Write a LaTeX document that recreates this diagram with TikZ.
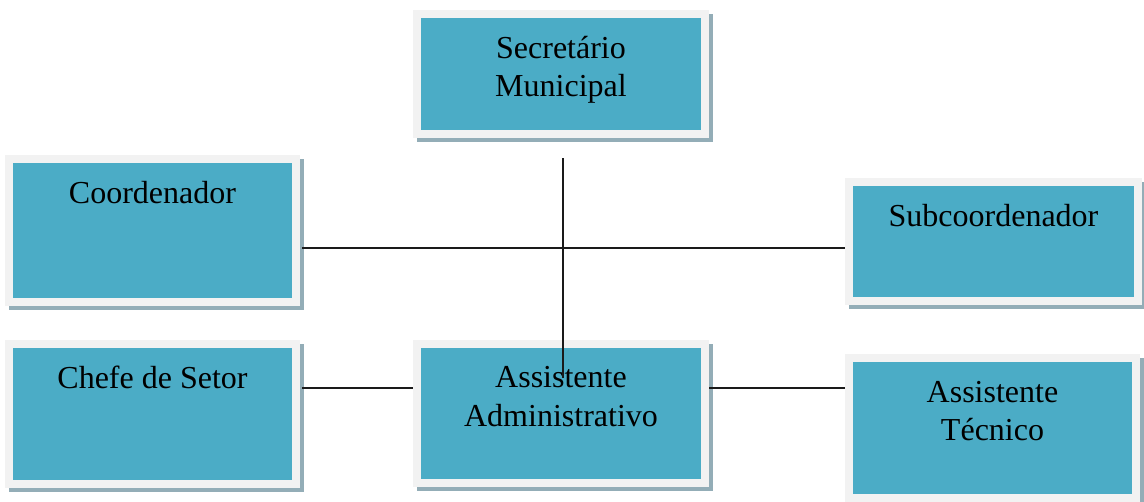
\documentclass[tikz,border=0pt]{standalone}
\usepackage{fontspec}
\setmainfont{Liberation Serif}
\usetikzlibrary{shadows}
\definecolor{boxfill}{HTML}{4BACC6}
\definecolor{boxrim}{HTML}{F2F2F2}
\definecolor{boxshade}{HTML}{93ADB7}
\definecolor{linkcol}{HTML}{1A1A1A}
\tikzset{
  cargo/.style={fill=boxrim, inner sep=0pt, outer sep=0pt,
    general shadow={fill=boxshade, shadow xshift=3pt, shadow yshift=-3pt},
    path picture={\fill[boxfill] ([xshift=6pt,yshift=-6pt]path picture bounding box.north west)
      rectangle ([xshift=-6pt,yshift=6pt]path picture bounding box.south east);}},
  rotulo/.style={anchor=base, align=center, inner sep=0pt, font=\fontsize{24}{29}\selectfont},
  ligacao/.style={draw=linkcol, line width=1.8pt}
}
\begin{document}
\begin{tikzpicture}[x=0.75pt,y=-0.75pt]
\useasboundingbox (0,0) rectangle (1144,501);
\node[cargo, minimum width=222pt, minimum height=96pt] (sec) at (561,74) {};
\node[cargo, minimum width=221.25pt, minimum height=113.25pt] (coord) at (152.5,230.5) {};
\node[cargo, minimum width=222.75pt, minimum height=95.25pt] (sub) at (993.5,241.5) {};
\node[cargo, minimum width=221.25pt, minimum height=111pt] (chefe) at (152.5,414) {};
\node[cargo, minimum width=222pt, minimum height=110.25pt] (asad) at (561,413.5) {};
\node[cargo, minimum width=221.25pt, minimum height=111pt] (tec) at (992.5,428) {};
% nos de duas linhas: base na ultima linha
\node[rotulo] (tsec) at ([yshift=-65pt]sec.north) {Secretário\\Municipal};
\node[rotulo] (tcoord) at ([yshift=-36pt]coord.north) {Coordenador};
\node[rotulo] (tsub) at ([yshift=-36.5pt]sub.north) {Subcoordenador};
\node[rotulo] (tchefe) at ([yshift=-36.5pt]chefe.north) {Chefe de Setor};
\node[rotulo] (tasad) at ([yshift=-64.5pt]asad.north) {Assistente\\Administrativo};
\node[rotulo] (ttec) at ([yshift=-65pt]tec.north) {Assistente\\Técnico};
\coordinate (vtop) at (563,158);
\coordinate (vbot) at (563,378);
\coordinate (hmeio) at (0,248);
\coordinate (hbaixo) at (0,388);
\draw[ligacao] (vtop) -- (vbot);
\draw[ligacao] ([xshift=1.5pt]coord.east |- hmeio) -- (sub.west |- hmeio);
\draw[ligacao] ([xshift=1.5pt]chefe.east |- hbaixo) -- (asad.west |- hbaixo);
\draw[ligacao] (asad.east |- hbaixo) -- (tec.west |- hbaixo);
\end{tikzpicture}
\end{document}
